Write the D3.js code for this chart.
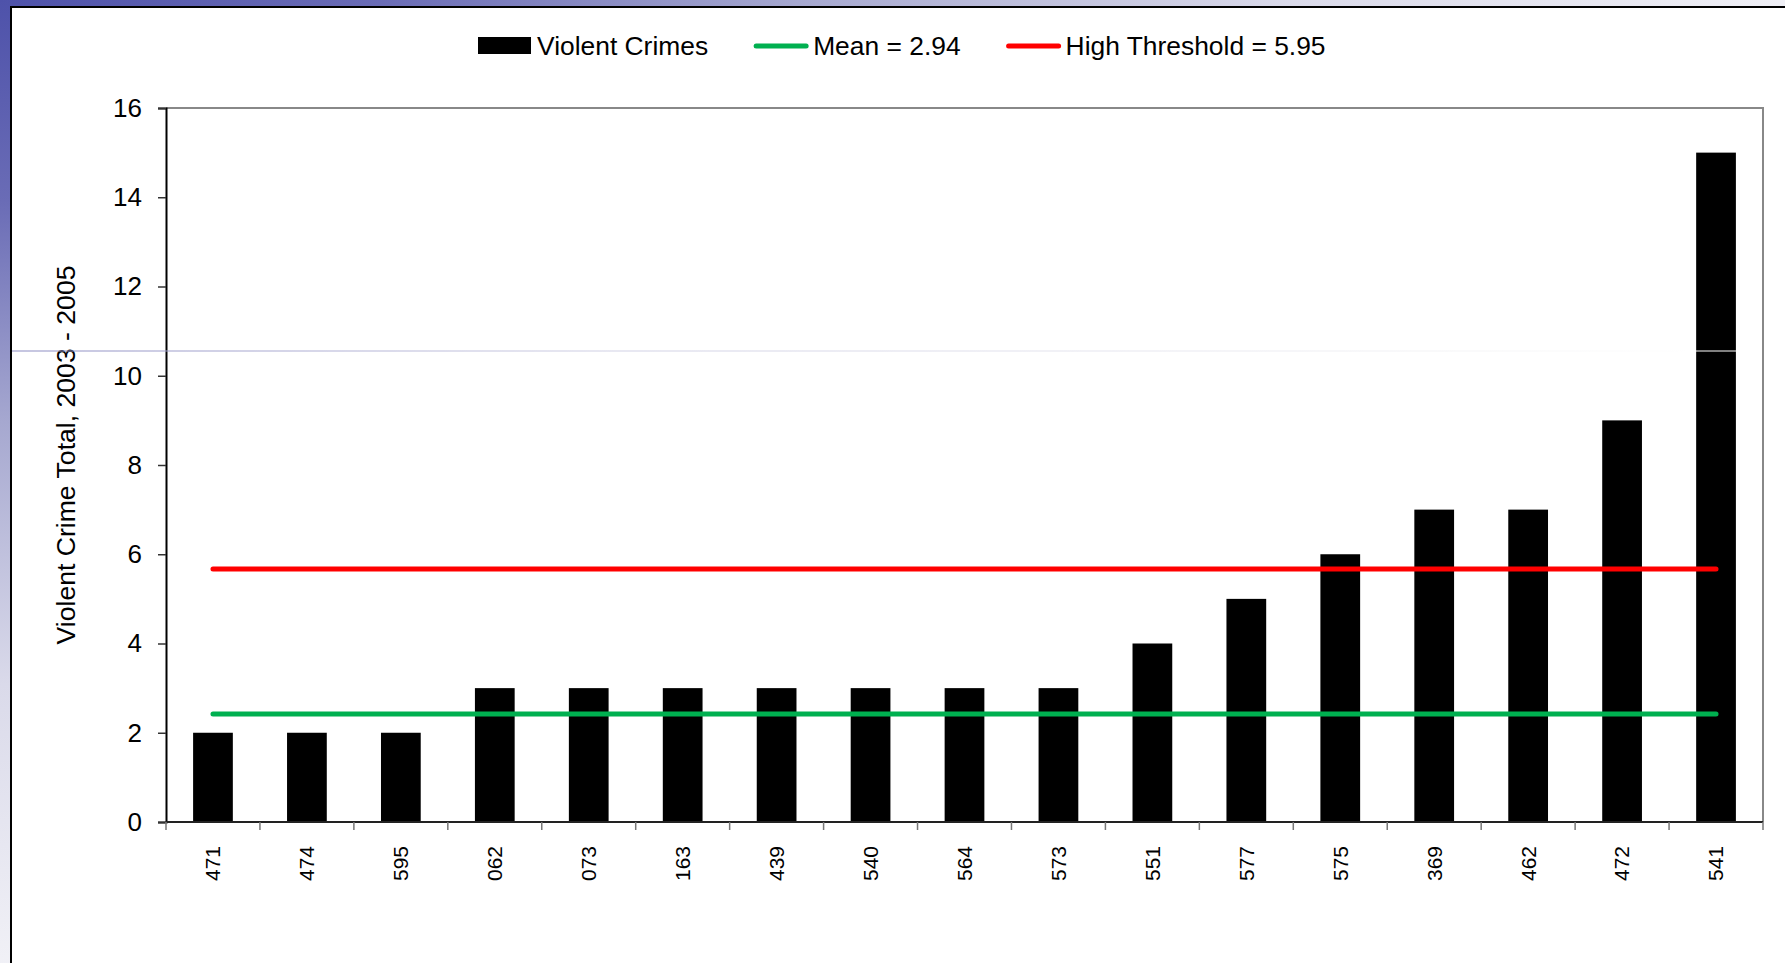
<!DOCTYPE html>
<html>
<head>
<meta charset="utf-8">
<script src="https://cdn.jsdelivr.net/npm/d3@7"></script>
<style>
  body { margin: 0; background: #fff; }
  svg { display: block; font-family: "Liberation Sans", Arial, sans-serif; }
</style>
</head>
<body>
<svg id="canvas" width="1785" height="963"></svg>
<script>
// chart data
let categories = ['471', '474', '595', '062', '073', '163', '439', '540', '564', '573', '551', '577', '575', '369', '462', '472', '541']
let crimes = [2, 2, 2, 3, 3, 3, 3, 3, 3, 3, 4, 5, 6, 7, 7, 9, 15]
let refNames = ['Mean = 2.94', 'High Threshold = 5.95']
let refValues = [2.42, 5.67]   // where the lines sit on the plot
let refColors = ['#00b050', '#ff0000']
let yTicks = [0, 2, 4, 6, 8, 10, 12, 14, 16]
let barName = 'Violent Crimes'
let yTitle = 'Violent Crime Total, 2003 - 2005'

let width = 1785
let height = 963
let plot = {left: 166, right: 1763, top: 108, bottom: 822}

let canvas = d3.select('#canvas')
let defs = canvas.append('defs')

// slide frame background
let bg = defs.append('radialGradient')
    .attr('id', 'frameGrad')
    .attr('gradientUnits', 'userSpaceOnUse')
    .attr('cx', 0).attr('cy', 0).attr('r', 1900)
    .attr('gradientTransform', 'scale(1, 0.53)')
bg.append('stop').attr('offset', 0).attr('stop-color', '#4e52aa')
bg.append('stop').attr('offset', 0.2).attr('stop-color', '#6a6cb6')
bg.append('stop').attr('offset', 0.42).attr('stop-color', '#a6a8d0')
bg.append('stop').attr('offset', 0.68).attr('stop-color', '#dadaea')
bg.append('stop').attr('offset', 1).attr('stop-color', '#f4f4f8')

let streak = defs.append('linearGradient')
    .attr('id', 'streakGrad')
    .attr('gradientUnits', 'userSpaceOnUse')
    .attr('x1', 10).attr('y1', 0).attr('x2', 1700).attr('y2', 0)
streak.append('stop').attr('offset', 0).attr('stop-color', '#8c8cc2')
streak.append('stop').attr('offset', 0.35).attr('stop-color', '#d0d0e4')
streak.append('stop').attr('offset', 0.85).attr('stop-color', '#f4f4f6')
streak.append('stop').attr('offset', 1).attr('stop-color', '#ffffff')

canvas.append('rect')
    .attr('width', width).attr('height', height)
    .attr('fill', 'url(#frameGrad)')

canvas.append('rect')
    .attr('x', 11).attr('y', 7)
    .attr('width', width - 11).attr('height', height - 7)
    .attr('fill', '#fff')

canvas.append('path')
    .attr('d', `M11,${height} V7 H${width}`)
    .attr('fill', 'none')
    .attr('stroke', '#000')
    .attr('stroke-width', 2)

// scales
let xScale = d3.scaleBand()
    .domain(categories)
    .range([plot.left, plot.right])
    .padding(0)

let yScale = d3.scaleLinear()
    .domain([0, 16])
    .range([plot.bottom, plot.top])

let barWidth = xScale.bandwidth() * 0.423

// plot frame (top and right)
canvas.append('path')
    .attr('d', `M${plot.left},${plot.top} H${plot.right} V${plot.bottom}`)
    .attr('fill', 'none')
    .attr('stroke', '#888')
    .attr('stroke-width', 2)

// bars
canvas.selectAll('.bar')
    .data(crimes)
    .enter()
    .append('rect')
    .attr('class', 'bar')
    .attr('x', (d, i) => xScale(categories[i]) + (xScale.bandwidth() - barWidth) / 2)
    .attr('y', (d) => yScale(d))
    .attr('width', barWidth)
    .attr('height', (d) => yScale(0) - yScale(d))
    .attr('fill', '#000')

// mean and threshold lines
let firstX = xScale(categories[0]) + xScale.bandwidth() / 2
let lastX = xScale(categories[categories.length - 1]) + xScale.bandwidth() / 2
canvas.selectAll('.ref')
    .data(refValues)
    .enter()
    .append('line')
    .attr('class', 'ref')
    .attr('x1', firstX)
    .attr('x2', lastX)
    .attr('y1', (d) => yScale(d))
    .attr('y2', (d) => yScale(d))
    .attr('stroke', (d, i) => refColors[i])
    .attr('stroke-width', 5)
    .attr('stroke-linecap', 'round')

// y axis
let yAxis = d3.axisLeft(yScale)
    .tickValues(yTicks)
    .tickSize(8)
    .tickPadding(16)
let yG = canvas.append('g')
    .attr('transform', `translate(${plot.left},0)`)
    .call(yAxis)
yG.select('.domain').attr('stroke', '#000').attr('stroke-width', 2)
yG.selectAll('.tick line').attr('stroke', '#333').attr('stroke-width', 1.5)
yG.selectAll('.tick text')
    .attr('font-size', 26)
    .attr('font-family', '"Liberation Sans", Arial, sans-serif')
    .attr('fill', '#000')

// x axis: ticks sit between categories
let xG = canvas.append('g')
    .attr('transform', `translate(0,${plot.bottom})`)
xG.append('line')
    .attr('x1', plot.left).attr('x2', plot.right)
    .attr('stroke', '#222')
    .attr('stroke-width', 2)
xG.selectAll('.xtick')
    .data(categories.concat(['end']))
    .enter()
    .append('line')
    .attr('class', 'xtick')
    .attr('x1', (d, i) => i < categories.length ? xScale(d) : plot.right)
    .attr('x2', (d, i) => i < categories.length ? xScale(d) : plot.right)
    .attr('y1', 0)
    .attr('y2', 8)
    .attr('stroke', '#777')
    .attr('stroke-width', 1.5)
xG.selectAll('.xlabel')
    .data(categories)
    .enter()
    .append('text')
    .attr('class', 'xlabel')
    .attr('transform', (d) => `translate(${xScale(d) + xScale.bandwidth() / 2},24) rotate(-90)`)
    .attr('text-anchor', 'end')
    .attr('dy', '0.35em')
    .attr('font-size', 21)
    .attr('fill', '#000')
    .text((d) => d)

// y axis title
canvas.append('text')
    .attr('transform', 'translate(66,455) rotate(-90)')
    .attr('text-anchor', 'middle')
    .attr('dy', '0.35em')
    .attr('font-size', 26.6)
    .attr('fill', '#000')
    .text(yTitle)

// legend
let legend = canvas.append('g')
let lx = 478
let legendY = 46
legend.append('rect')
    .attr('x', lx).attr('y', legendY - 9)
    .attr('width', 53).attr('height', 17)
    .attr('fill', '#000')
let t0 = legend.append('text')
    .attr('x', lx + 59).attr('y', legendY + 9)
    .attr('font-size', 26.4)
    .text(barName)
lx = lx + 59 + t0.node().getComputedTextLength() + 46

refNames.forEach((name, i) => {
    legend.append('line')
        .attr('x1', lx + 2).attr('x2', lx + 52)
        .attr('y1', legendY).attr('y2', legendY)
        .attr('stroke', refColors[i])
        .attr('stroke-width', 5)
        .attr('stroke-linecap', 'round')
    let t = legend.append('text')
        .attr('x', lx + 59).attr('y', legendY + 9)
        .attr('font-size', 26.4)
        .text(name)
    lx = lx + 59 + t.node().getComputedTextLength() + 46
})

// faint horizontal streak across the slide
canvas.append('rect')
    .attr('x', 12).attr('y', 350.5)
    .attr('width', 1740).attr('height', 1)
    .attr('fill', 'url(#streakGrad)')
</script>
</body>
</html>
